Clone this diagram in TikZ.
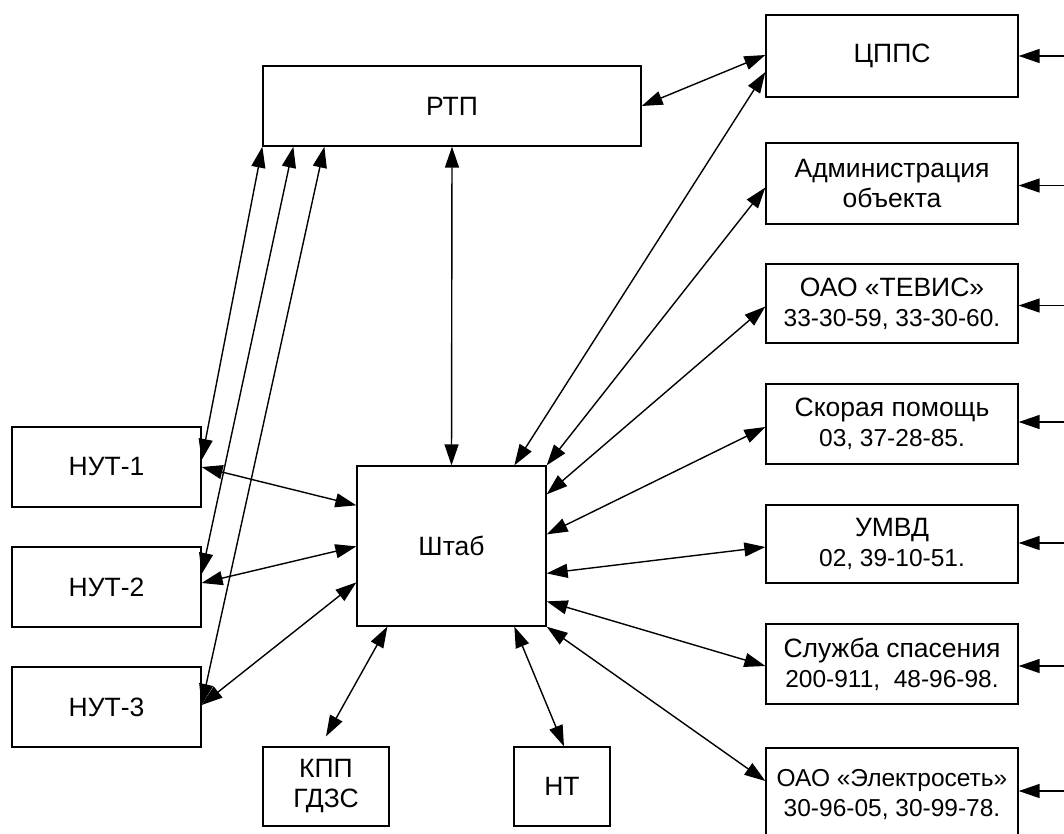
\documentclass[tikz,border=0pt]{standalone}
\usepackage{fontspec}
\setmainfont{Liberation Sans}
\usetikzlibrary{arrows.meta,calc}
\begin{document}
\begin{tikzpicture}[x=1pt,y=-1pt,
  box/.style={draw,line width=1.3pt,inner sep=0pt,align=center,anchor=center,
    font=\fontsize{26.5}{30}\selectfont},
  link/.style={line width=1.4pt,{Triangle[length=21pt,width=14pt]}-{Triangle[length=21pt,width=14pt]}},
  feed/.style={line width=1.4pt,-{Triangle[length=21pt,width=14pt]}}]
\newcommand{\phonefont}{\fontsize{24.5}{29}\selectfont}
\useasboundingbox (0,0) rectangle (1064,833);
\node[box,minimum width=378pt,minimum height=80pt] (rtp) at (452,106) {РТП};
\node[box,minimum width=252pt,minimum height=82pt] (cpps) at (892,56) {ЦППС};
\node[box,minimum width=252pt,minimum height=81pt] (adm) at (892,183.5) {Администрация\\объекта};
\node[box,minimum width=252pt,minimum height=79pt] (tevis) at (892,303.5) {ОАО «ТЕВИС»\\{\phonefont 33-30-59, 33-30-60.}};
\node[box,minimum width=252pt,minimum height=80pt] (skor) at (892,424) {Скорая помощь\\{\phonefont 03, 37-28-85.}};
\node[box,minimum width=252pt,minimum height=78pt] (umvd) at (892,544) {УМВД\\{\phonefont 02, 39-10-51.}};
\node[box,minimum width=252pt,minimum height=80pt] (sluzh) at (892,664) {Служба спасения\\{\phonefont 200-911,\ \ 48-96-98.}};
\node[box,minimum width=252pt,minimum height=92pt] (elec) at (892,794) {{\fontsize{24.5}{29}\selectfont ОАО «Электросеть»}\\{\phonefont 30-96-05, 30-99-78.}};
\node[box,minimum width=189pt,minimum height=80pt] (nut1) at (106.5,467) {НУТ-1};
\node[box,minimum width=189pt,minimum height=80pt] (nut2) at (106.5,587) {НУТ-2};
\node[box,minimum width=189pt,minimum height=80pt] (nut3) at (106.5,707) {НУТ-3};
\node[box,minimum width=189pt,minimum height=160pt] (shtab) at (451.5,546) {Штаб};
\node[box,minimum width=126pt,minimum height=79pt] (kpp) at (326,786.5) {КПП\\ГДЗС};
\node[box,minimum width=96pt,minimum height=79pt] (nt) at (562,786.5) {НТ};
% free ends on the right edge
\coordinate (ecpps) at ($(cpps.east)+(46,0)$);
\coordinate (eadm) at ($(adm.east)+(46,2)$);
\coordinate (etevis) at ($(tevis.east)+(46,2)$);
\coordinate (eskor) at ($(skor.east)+(46,-2)$);
\coordinate (eumvd) at ($(umvd.east)+(46,-1)$);
\coordinate (esluzh) at ($(sluzh.east)+(46,2)$);
\coordinate (eelec) at ($(elec.east)+(46,-3)$);
\draw[feed] (ecpps) -- (cpps.east);
\draw[feed] (eadm) -- ($(adm.east)+(0,2)$);
\draw[feed] (etevis) -- ($(tevis.east)+(0,2)$);
\draw[feed] (eskor) -- ($(skor.east)+(0,-2)$);
\draw[feed] (eumvd) -- ($(umvd.east)+(0,-1)$);
\draw[feed] (esluzh) -- ($(sluzh.east)+(0,2)$);
\draw[feed] (eelec) -- ($(elec.east)+(0,-3)$);
% RTP links
\draw[link] (rtp.east) -- ($(cpps.west)+(0,-1)$);
\draw[link] (rtp.south) -- (shtab.north);
\draw[link] (rtp.south west) -- ($(nut1.east)+(0,-7)$);
\draw[link] ($(rtp.south west)+(31,0)$) -- ($(nut2.east)+(0,-13)$);
\draw[link] ($(rtp.south west)+(62,0)$) -- ($(nut3.east)+(0,-2)$);
% Shtab links
\draw[link] ($(shtab.north west)+(158,0)$) -- ($(cpps.west)+(0,16)$);
\draw[link] (shtab.north east) -- ($(adm.west)+(0,4)$);
\draw[link] ($(shtab.north east)+(0,29)$) -- ($(tevis.west)+(0,3)$);
\draw[link] ($(shtab.north east)+(0,69)$) -- ($(skor.west)+(0,3)$);
\draw[link] ($(shtab.north east)+(0,108)$) -- ($(umvd.west)+(0,3)$);
\draw[link] ($(shtab.north east)+(0,136)$) -- ($(sluzh.west)+(0,2)$);
\draw[link] (shtab.south east) -- ($(elec.west)+(0,-13)$);
\draw[link] ($(shtab.south west)+(31,0)$) -- ($(kpp.north)+(0,-10)$);
\draw[link] ($(shtab.south west)+(158,0)$) -- ($(nt.north)+(2,0)$);
\draw[link] ($(shtab.north west)+(0,40)$) -- (nut1.east);
\draw[link] ($(shtab.north west)+(0,81)$) -- ($(nut2.east)+(0,-4)$);
\draw[link] ($(shtab.north west)+(0,117)$) -- ($(nut3.east)+(0,-2)$);
\end{tikzpicture}
\end{document}
